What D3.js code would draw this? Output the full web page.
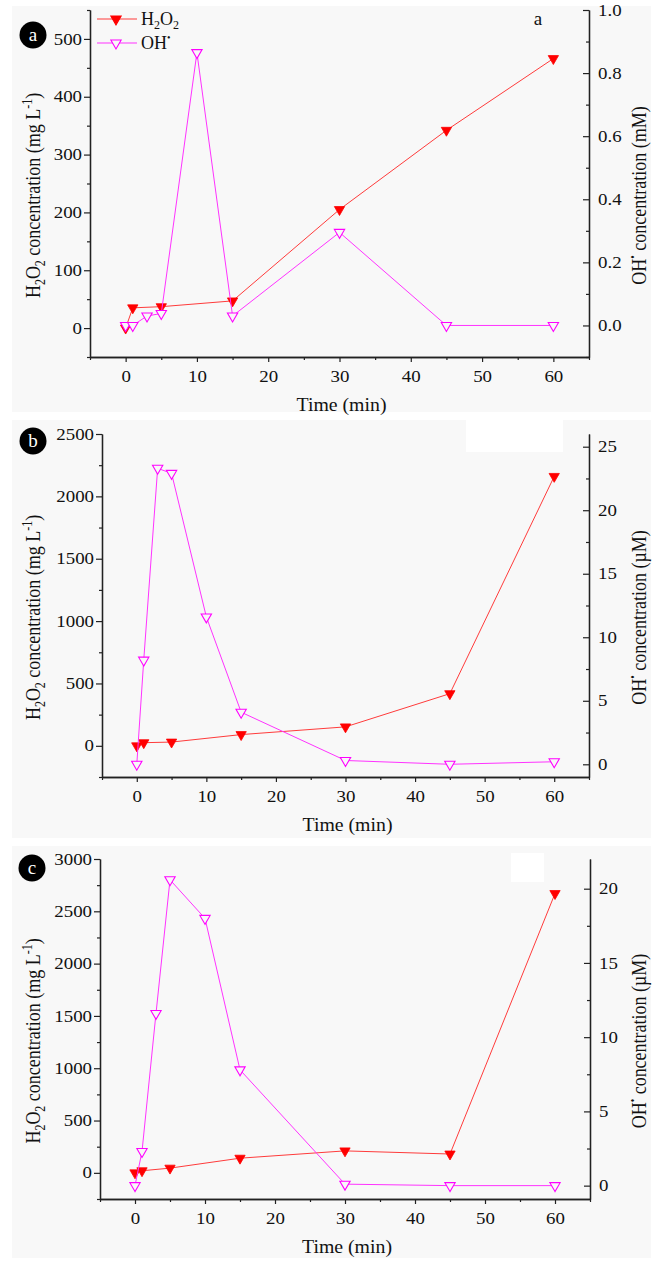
<!DOCTYPE html>
<meta charset="utf-8">
<script src="https://d3js.org/d3.v7.min.js"></script>
<style>
  body { margin: 0; background: #fff; }
  svg text { font-family: "Liberation Serif", "DejaVu Serif", serif; fill: #111; }
</style>
<body>
<div id="my_dataviz"></div>
<script>

// ---- data ----
var timeH2O2 = [0, 1, 5, 15, 30, 45, 60];
var timeOH = [0, 1, 3, 5, 10, 15, 30, 45, 60];

// panel a (H2O2 mg/L, OH mM)
var h2o2A = [0, 35, 37, 47, 205, 342, 466];
var ohA = [0, 0, 0.03, 0.038, 0.865, 0.03, 0.295, 0, 0];
// panel b (H2O2 mg/L, OH uM)
var h2o2B = [0, 25, 30, 90, 152, 418, 2160];
var ohB = [0, 8.2, 23.3, 22.9, 11.6, 4.1, 0.3, 0, 0.2];
// panel c (H2O2 mg/L, OH uM)
var h2o2C = [0, 20, 45, 140, 210, 180, 2670];
var ohC = [0, 2.3, 11.6, 20.6, 18.0, 7.8, 0.1, 0, 0];

var xTicks = [0, 10, 20, 30, 40, 50, 60];
var leftTicksA = [0, 100, 200, 300, 400, 500];
var rightTicksA = [0, 0.2, 0.4, 0.6, 0.8, 1.0];
var leftTicksB = [0, 500, 1000, 1500, 2000, 2500];
var rightTicksB = [0, 5, 10, 15, 20, 25];
var leftTicksC = [0, 500, 1000, 1500, 2000, 2500, 3000];
var rightTicksC = [0, 5, 10, 15, 20];

var redColor = "#ff0000", pinkColor = "#ff00ff";
var serif = "'Liberation Serif', 'DejaVu Serif', serif";

var svg = d3.select("#my_dataviz")
  .append("svg")
    .attr("width", 662)
    .attr("height", 1261);

// panel layout
var panels = [
  {id: "a", bg: [12, 6, 651, 412], left: 90, right: 589, top: 10, bottom: 357,
   yL: [-50, 550], yR: [-0.1, 1.0], lt: leftTicksA, rt: rightTicksA, lMinor: 50, rMinor: 0.1,
   rFmt: d3.format(".1f"), unit: "(mM)", h2o2: h2o2A, oh: ohA, circle: [33, 35]},
  {id: "b", bg: [12, 420, 651, 838], left: 102, right: 589, top: 434, bottom: 777,
   yL: [-250, 2500], yR: [-1, 26], lt: leftTicksB, rt: rightTicksB, lMinor: 250, rMinor: 2.5,
   rFmt: d3.format("d"), unit: "(\u00b5M)", h2o2: h2o2B, oh: ohB, circle: [33, 441],
   patch: [466, 420, 97, 32]},
  {id: "c", bg: [12, 846, 651, 1258], left: 100, right: 590, top: 859, bottom: 1199,
   yL: [-250, 3000], yR: [-0.9, 22], lt: leftTicksC, rt: rightTicksC, lMinor: 250, rMinor: 2.5,
   rFmt: d3.format("d"), unit: "(\u00b5M)", h2o2: h2o2C, oh: ohC, circle: [32, 868],
   patch: [511, 853, 33, 29]}
];

function minorTicks(domain, step) {
  var out = [];
  var start = Math.ceil(domain[0] / step - 1e-9);
  for (var i = start; i * step <= domain[1] + 1e-9; i++) {
    if (Math.abs((i * step) / (2 * step) - Math.round((i * step) / (2 * step))) > 1e-6) out.push(i * step);
  }
  return out;
}

// the figure's lettering is a bit wider than normal, so stretch tick labels sideways
function styleTicks(sel) {
  sel.selectAll(".tick text")
    .style("font-family", serif)
    .style("font-size", "16px")
    .style("fill", "#111")
    .each(function() {
      var t = d3.select(this);
      var tx = +t.attr("x") || 0;
      t.attr("x", 0).attr("transform", "translate(" + tx + ",0) scale(1.18,1)");
    });
}

var triDown = d3.symbol().type(d3.symbolTriangle).size(46);

panels.forEach(function(p) {
  // light grey page background behind each panel
  svg.append("rect")
    .attr("x", p.bg[0]).attr("y", p.bg[1])
    .attr("width", p.bg[2] - p.bg[0]).attr("height", p.bg[3] - p.bg[1])
    .attr("fill", "#f8f8f8");
  if (p.patch) {
    svg.append("rect")
      .attr("x", p.patch[0]).attr("y", p.patch[1])
      .attr("width", p.patch[2]).attr("height", p.patch[3])
      .attr("fill", "#ffffff");
  }

  var x = d3.scaleLinear().domain([-5, 65]).range([p.left, p.right]);
  var yL = d3.scaleLinear().domain(p.yL).range([p.bottom, p.top]);
  var yR = d3.scaleLinear().domain(p.yR).range([p.bottom, p.top]);

  var g = svg.append("g");

  // bottom axis
  g.append("g").attr("transform", "translate(0," + p.bottom + ")")
    .call(d3.axisBottom(x).tickValues(xTicks).tickFormat(d3.format("d")).tickSize(5).tickPadding(9).tickSizeOuter(0))
    .call(styleTicks);
  g.append("g").attr("transform", "translate(0," + p.bottom + ")")
    .call(d3.axisBottom(x).tickValues([-5, 5, 15, 25, 35, 45, 55, 65]).tickSize(3).tickFormat("").tickSizeOuter(0));

  // left axis
  g.append("g").attr("transform", "translate(" + p.left + ",0)")
    .call(d3.axisLeft(yL).tickValues(p.lt).tickFormat(d3.format("d")).tickSize(6).tickPadding(2).tickSizeOuter(0))
    .call(styleTicks);
  g.append("g").attr("transform", "translate(" + p.left + ",0)")
    .call(d3.axisLeft(yL).tickValues(minorTicks(p.yL, p.lMinor)).tickSize(3).tickFormat("").tickSizeOuter(0));

  // right axis (ticks pointing inward)
  g.append("g").attr("transform", "translate(" + p.right + ",0)")
    .call(d3.axisRight(yR).tickValues(p.rt).tickFormat(p.rFmt).tickSize(-6).tickPadding(9).tickSizeOuter(0))
    .call(styleTicks);
  g.append("g").attr("transform", "translate(" + p.right + ",0)")
    .call(d3.axisRight(yR).tickValues(minorTicks(p.yR, p.rMinor)).tickSize(-3).tickFormat("").tickSizeOuter(0));

  g.selectAll(".domain").attr("stroke", "#222").attr("stroke-width", 1.3);
  g.selectAll(".tick line").attr("stroke", "#222").attr("stroke-width", 1.2);

  // series points
  var h2o2Pts = timeH2O2.map(function(t, i) { return [t, p.h2o2[i]]; });
  var ohPts = timeOH.map(function(t, i) { return [t, p.oh[i]]; });

  g.append("path")
    .datum(h2o2Pts)
    .attr("fill", "none")
    .attr("stroke", "#ff3b3b")
    .attr("stroke-width", 1)
    .attr("d", d3.line().x(function(d) { return x(d[0]); }).y(function(d) { return yL(d[1]); }));

  g.selectAll("h2o2dot")
    .data(h2o2Pts)
    .enter()
    .append("path")
      .attr("d", triDown)
      .attr("transform", function(d) { return "translate(" + x(d[0]) + "," + yL(d[1]) + ") rotate(180)"; })
      .attr("fill", redColor)
      .attr("stroke", redColor)
      .attr("stroke-width", 0.8);

  g.append("path")
    .datum(ohPts)
    .attr("fill", "none")
    .attr("stroke", "#ff33ff")
    .attr("stroke-width", 1)
    .attr("d", d3.line().x(function(d) { return x(d[0]); }).y(function(d) { return yR(d[1]); }));

  g.selectAll("ohdot")
    .data(ohPts)
    .enter()
    .append("path")
      .attr("d", triDown)
      .attr("transform", function(d) { return "translate(" + x(d[0]) + "," + yR(d[1]) + ") rotate(180)"; })
      .attr("fill", "#f8f8f8")
      .attr("stroke", pinkColor)
      .attr("stroke-width", 1.1);

  // x title
  g.append("text")
    .attr("transform", "translate(" + ((p.left + p.right) / 2 + 2) + "," + (p.bottom + 54) + ") scale(1.1,1)")
    .attr("text-anchor", "middle")
    .attr("font-size", 18)
    .text("Time (min)");

  var midY = (p.top + p.bottom) / 2 + 12;

  // left title: H2O2 concentration (mg L-1)
  var lt = g.append("text")
    .attr("transform", "translate(40," + midY + ") scale(1.15,1) rotate(-90)")
    .attr("text-anchor", "middle")
    .attr("font-size", 18);
  lt.append("tspan").text("H");
  lt.append("tspan").attr("font-size", 12).attr("dy", 4).text("2");
  lt.append("tspan").attr("dy", -4).text("O");
  lt.append("tspan").attr("font-size", 12).attr("dy", 4).text("2");
  lt.append("tspan").attr("dy", -4).text(" concentration (mg L");
  lt.append("tspan").attr("font-size", 12).attr("dy", -7).text("-1");
  lt.append("tspan").attr("dy", 7).text(")");

  // right title: OH concentration
  var rtt = g.append("text")
    .attr("transform", "translate(646," + midY + ") scale(1.15,1) rotate(-90)")
    .attr("text-anchor", "middle")
    .attr("font-size", 18);
  rtt.append("tspan").text("OH");
  rtt.append("tspan").attr("font-size", 10).attr("dy", -8).text("\u2022");
  rtt.append("tspan").attr("dy", 8).text(" concentration " + p.unit);

  // panel badge
  svg.append("circle")
    .attr("cx", p.circle[0]).attr("cy", p.circle[1]).attr("r", 13.5)
    .attr("fill", "#000");
  svg.append("text")
    .attr("x", p.circle[0]).attr("y", p.circle[1] + 6)
    .attr("text-anchor", "middle")
    .attr("font-size", 19)
    .style("fill", "#fff")
    .text(p.id);
});

// small "a" in panel a
svg.append("text")
  .attr("x", 538).attr("y", 25)
  .attr("text-anchor", "middle")
  .attr("font-size", 19)
  .text("a");

// legend in panel a
var legend = svg.append("g");
var legendRows = [
  {y: 19, color: "#ff3b3b", mark: redColor, fill: redColor},
  {y: 43, color: "#ff33ff", mark: pinkColor, fill: "#f8f8f8"}
];
legendRows.forEach(function(r) {
  legend.append("line")
    .attr("x1", 97).attr("x2", 137).attr("y1", r.y).attr("y2", r.y)
    .attr("stroke", r.color).attr("stroke-width", 1);
  legend.append("path")
    .attr("d", triDown)
    .attr("transform", "translate(116," + r.y + ") rotate(180)")
    .attr("fill", r.fill).attr("stroke", r.mark).attr("stroke-width", 1.1);
});
var l1 = legend.append("text").attr("x", 141).attr("y", 25).attr("font-size", 18);
l1.append("tspan").text("H");
l1.append("tspan").attr("font-size", 12).attr("dy", 4).text("2");
l1.append("tspan").attr("dy", -4).text("O");
l1.append("tspan").attr("font-size", 12).attr("dy", 4).text("2");
var l2 = legend.append("text").attr("x", 141).attr("y", 49).attr("font-size", 18);
l2.append("tspan").text("OH");
l2.append("tspan").attr("font-size", 10).attr("dy", -8).text("\u2022");

</script>
</body>
